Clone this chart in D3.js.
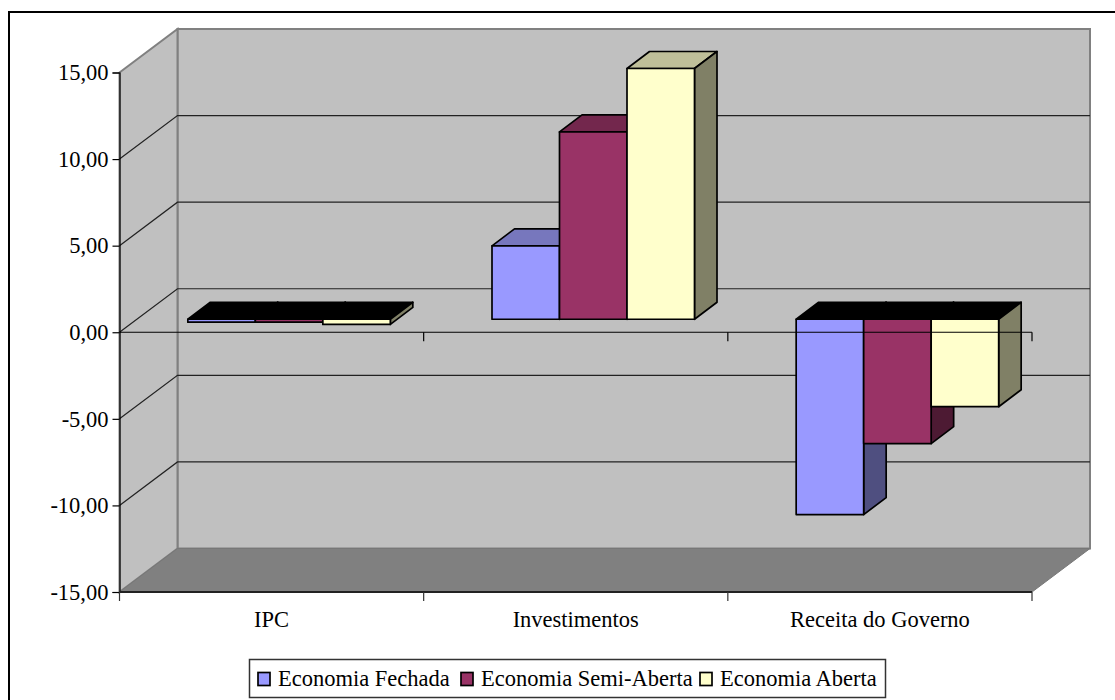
<!DOCTYPE html>
<html>
<head>
<meta charset="utf-8">
<script src="https://cdn.jsdelivr.net/npm/d3@7/dist/d3.min.js"></script>
<style>
  html, body { margin: 0; padding: 0; background: #fff; overflow: hidden; }
  svg { display: block; }
  text { font-family: "Liberation Serif", serif; fill: #000; }
</style>
</head>
<body>
<svg id="chart" width="1115" height="700"></svg>
<script>
// Resultados por categoria e por cenario
const categories = ["IPC", "Investimentos", "Receita do Governo"];
const seriesNames = ["Economia Fechada", "Economia Semi-Aberta", "Economia Aberta"];
const economiaFechada = [-0.17, 4.24, -11.28];
const economiaSemiAberta = [-0.17, 10.82, -7.18];
const economiaAberta = [-0.3, 14.48, -5.05];
const seriesValues = [economiaFechada, economiaSemiAberta, economiaAberta];
const frontColors = ["#9999ff", "#993366", "#ffffcc"];
const topColors = ["#7777bd", "#73274d", "#bfbf99"];
const sideColors = ["#4f4f80", "#4d1a33", "#808066"];
const yTicks = [-15, -10, -5, 0, 5, 10, 15];

const svg = d3.select("#chart");

// Eixos na face frontal da caixa 3D
const y = d3.scaleLinear().domain([-15, 15]).range([592, 72.5]);
const x = d3.scaleBand().domain(categories).range([119.5, 1032]);
const depth = { dx: 58, dy: -43.5 };      // profundidade da caixa
const barDepth = { dx: 22.5, dy: -17 };   // profundidade de cada barra
const barShift = { dx: 17.5, dy: -13 };   // recuo das barras dentro da caixa
const fmt = v => d3.format(".2f")(v).replace(".", ",").replace("\u2212", "-");

const line = pts => d3.line()(pts) + "Z";
const x0 = x.range()[0], x1 = x.range()[1];
const yTop = y(15), yBot = y(-15);
const fontSize = "22.5px";

// Moldura externa: aberta a direita e embaixo, onde encontra a borda da pagina
svg.append("path").attr("d", "M9,700V12H1115")
  .attr("fill", "none").attr("stroke", "#000").attr("stroke-width", 2);

const walls = svg.append("g");
// Parede do fundo
walls.append("rect")
  .attr("x", x0 + depth.dx).attr("y", yTop + depth.dy)
  .attr("width", x1 - x0).attr("height", yBot - yTop)
  .attr("fill", "#c0c0c0").attr("stroke", "#808080").attr("stroke-width", 2);
// Parede lateral
walls.append("path")
  .attr("d", line([[x0, yTop], [x0 + depth.dx, yTop + depth.dy], [x0 + depth.dx, yBot + depth.dy], [x0, yBot]]))
  .attr("fill", "#c0c0c0").attr("stroke", "#808080").attr("stroke-width", 2);
// Piso
walls.append("path")
  .attr("d", line([[x0, yBot], [x0 + depth.dx, yBot + depth.dy], [x1 + depth.dx, yBot + depth.dy], [x1, yBot]]))
  .attr("fill", "#808080").attr("stroke", "#777").attr("stroke-width", 1);

// Linhas de grade: diagonal na lateral e horizontal no fundo
const grid = svg.append("g").attr("stroke", "#222").attr("stroke-width", 1.2).attr("fill", "none");
yTicks.filter(t => t > -15 && t < 15).forEach(t => {
  grid.append("path").attr("d", d3.line()([
    [x0, y(t)], [x0 + depth.dx, y(t) + depth.dy], [x1 + depth.dx, y(t) + depth.dy]
  ]));
});

// Barras 3D: da frente de cada barra saem o topo e a lateral
const barsLayer = svg.append("g").attr("stroke", "#000").attr("stroke-width", 1.7).attr("stroke-linejoin", "round");
const zeroY = y(0) + barShift.dy;
const barW = 67.5;
categories.forEach((cat, c) => {
  const start = x(cat) + barShift.dx + (x.bandwidth() - barW * seriesNames.length) / 2;
  seriesNames.forEach((name, s) => {
    const v = seriesValues[s][c];
    const l = start + s * barW, r = l + barW;
    const yv = y(v) + barShift.dy;
    const top = Math.min(yv, zeroY), bottom = Math.max(yv, zeroY);
    const d = barDepth;
    const g = barsLayer.append("g");
    // Valores negativos deixam ver a face superior escura (interior da barra)
    g.append("path").attr("d", line([[l, top], [l + d.dx, top + d.dy], [r + d.dx, top + d.dy], [r, top]]))
      .attr("fill", v < 0 ? "#000" : topColors[s]);
    g.append("path").attr("d", line([[r, top], [r + d.dx, top + d.dy], [r + d.dx, bottom + d.dy], [r, bottom]]))
      .attr("fill", sideColors[s]);
    g.append("rect").attr("x", l).attr("y", top).attr("width", barW).attr("height", bottom - top)
      .attr("fill", frontColors[s]);
  });
});

// Eixo de valores
const yAxis = d3.axisLeft(y).tickValues(yTicks).tickFormat(fmt).tickSize(7).tickPadding(4);
const gy = svg.append("g").attr("transform", `translate(${x0},0)`).call(yAxis);
gy.selectAll("text").style("font-size", fontSize).style("font-family", '"Liberation Serif", serif');
gy.selectAll("line,path").attr("stroke", "#000").attr("stroke-width", 1.2);

// Eixo de categorias sobre o zero, com marcas nos limites de cada grupo
const boundaries = categories.map(c => x(c)).concat([x1]);
const axisLines = svg.append("g").attr("stroke", "#000").attr("stroke-width", 1.2);
axisLines.append("line").attr("x1", x0).attr("x2", x1).attr("y1", y(0)).attr("y2", y(0));
boundaries.slice(1).forEach(b => {
  axisLines.append("line").attr("x1", b).attr("x2", b).attr("y1", y(0)).attr("y2", y(0) + 9);
});

// Borda inferior do piso com suas marcas e rotulos
const bottomAxis = svg.append("g");
bottomAxis.append("line").attr("x1", x0).attr("x2", x1).attr("y1", yBot).attr("y2", yBot)
  .attr("stroke", "#222").attr("stroke-width", 2);
boundaries.forEach(b => {
  bottomAxis.append("line").attr("x1", b).attr("x2", b).attr("y1", yBot).attr("y2", yBot + 9)
    .attr("stroke", "#333").attr("stroke-width", 1.2);
});
categories.forEach(cat => {
  bottomAxis.append("text").attr("x", x(cat) + x.bandwidth() / 2).attr("y", 627)
    .attr("text-anchor", "middle").style("font-size", fontSize).text(cat);
});

// Legenda
const legend = svg.append("g");
legend.append("rect").attr("x", 249.5).attr("y", 659.5).attr("width", 636).attr("height", 38)
  .attr("fill", "#fff").attr("stroke", "#333").attr("stroke-width", 1.5);
const legendX = [258, 461, 700];
seriesNames.forEach((name, s) => {
  legend.append("rect").attr("x", legendX[s]).attr("y", 672.5).attr("width", 12).attr("height", 13)
    .attr("fill", frontColors[s]).attr("stroke", "#000").attr("stroke-width", 1.7);
  legend.append("text").attr("x", legendX[s] + 20).attr("y", 686)
    .style("font-size", fontSize).text(name);
});
</script>
</body>
</html>
